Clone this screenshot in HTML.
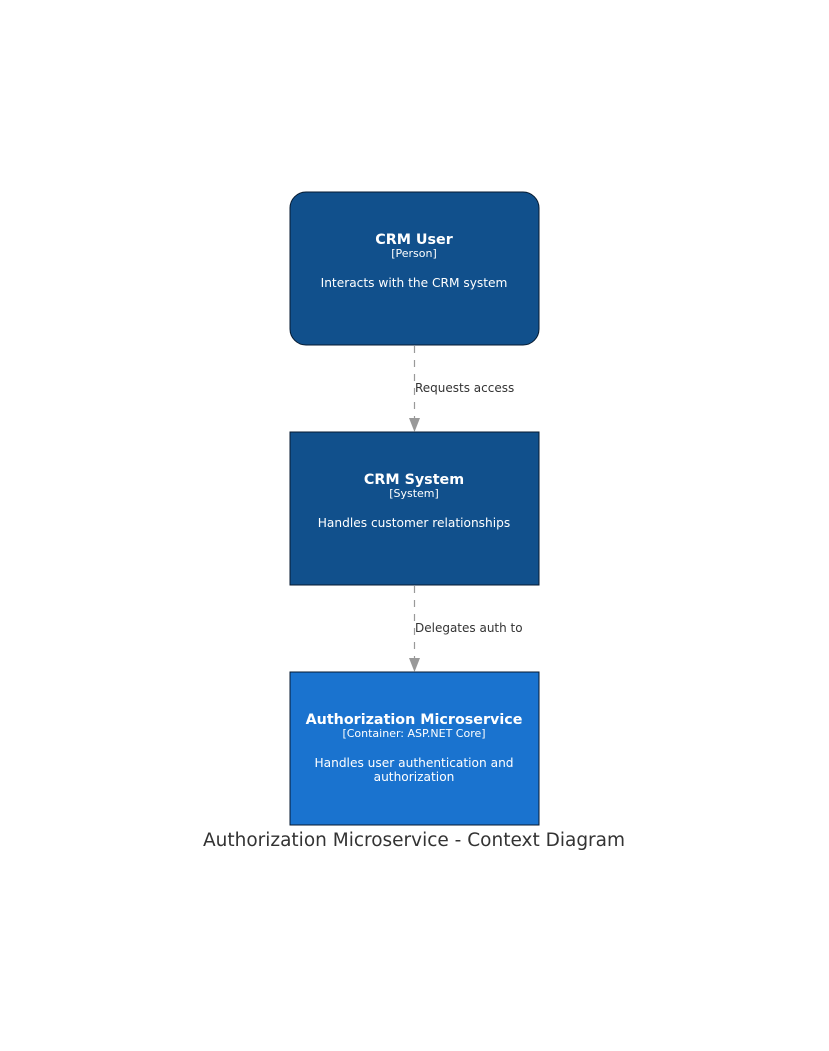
<!DOCTYPE html>
<html><head><meta charset="utf-8"><style>
html,body{margin:0;padding:0;background:#fff;}
</style></head><body>
<svg width="829" height="1051" xmlns="http://www.w3.org/2000/svg" style="display:block">
<rect width="829" height="1051" fill="#fff"/>
<g font-family="'DejaVu Sans','Liberation Sans',sans-serif" text-anchor="middle">
<rect x="290" y="192" width="249" height="153" rx="16" fill="#11508C" stroke="#061a30" stroke-width="1"/>
<text x="414" y="244" font-size="14.3" font-weight="bold" fill="#fff">CRM User</text>
<text x="414" y="257" font-size="11" fill="#fff">[Person]</text>
<text x="414" y="287" font-size="12.2" fill="#fff">Interacts with the CRM system</text>

<rect x="290" y="432" width="249" height="153" fill="#11508C" stroke="#061a30" stroke-width="1"/>
<text x="414" y="484" font-size="14.3" font-weight="bold" fill="#fff">CRM System</text>
<text x="414" y="497" font-size="11" fill="#fff">[System]</text>
<text x="414" y="527" font-size="12.2" fill="#fff">Handles customer relationships</text>

<rect x="290" y="672" width="249" height="153" fill="#1A73CF" stroke="#061a30" stroke-width="1"/>
<text x="414" y="724" font-size="14.3" font-weight="bold" fill="#fff">Authorization Microservice</text>
<text x="414" y="737" font-size="11" fill="#fff">[Container: ASP.NET Core]</text>
<text x="414" y="767" font-size="12.2" fill="#fff">Handles user authentication and</text>
<text x="414" y="781" font-size="12.2" fill="#fff">authorization</text>

<line x1="414.5" y1="346" x2="414.5" y2="420" stroke="#999" stroke-width="1.2" stroke-dasharray="7,7"/>
<polygon points="409,418 420,418 414.5,432" fill="#999"/>
<text x="415" y="392" font-size="12" fill="#333" text-anchor="start">Requests access</text>

<line x1="414.5" y1="586" x2="414.5" y2="660" stroke="#999" stroke-width="1.2" stroke-dasharray="7,7"/>
<polygon points="409,658 420,658 414.5,672" fill="#999"/>
<text x="415" y="632" font-size="12" fill="#333" text-anchor="start">Delegates auth to</text>

<text x="414" y="846" font-size="18.5" fill="#333">Authorization Microservice - Context Diagram</text>
</g>
</svg>
</body></html>
